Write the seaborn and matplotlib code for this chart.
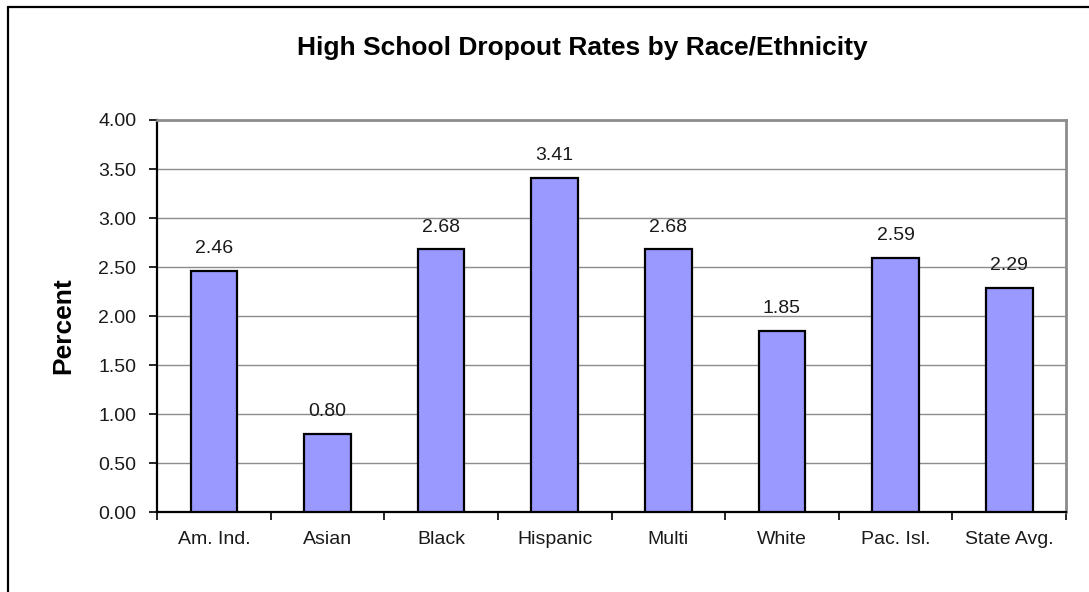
import numpy as np
import pandas as pd
import matplotlib
matplotlib.use("Agg")
import matplotlib.pyplot as plt
from matplotlib.lines import Line2D
from matplotlib.ticker import MultipleLocator, FixedLocator
import seaborn as sns

# --- Data ---
groups = ["Am. Ind.", "Asian", "Black", "Hispanic", "Multi", "White", "Pac. Isl.", "State Avg."]
rates = [2.46, 0.80, 2.68, 3.41, 2.68, 1.85, 2.59, 2.29]

df = pd.DataFrame({"Group": groups, "Rate": rates})

sns.set_theme(style="white")
plt.rcParams['font.family'] = ['Liberation Sans', 'DejaVu Sans']

fig = plt.figure(figsize=(10.89, 5.92), dpi=100)
ax = fig.add_axes([0.1442, 0.1351, 0.8347, 0.6622])

sns.barplot(data=df, x="Group", y="Rate", color="#9999FF", saturation=1,
            width=0.41, edgecolor="black", linewidth=1.6, ax=ax, zorder=3)

# value labels above bars
for i, v in enumerate(rates):
    ax.annotate(f"{v:.2f}", (i, v), xytext=(0, 16), textcoords="offset points",
                ha="center", va="center", fontsize=14, color="#1a1a1a")

ax.set_ylim(0, 4)
ax.set_xlim(-0.5, len(groups) - 0.5)
ax.yaxis.set_major_locator(MultipleLocator(0.5))
ax.yaxis.set_major_formatter(matplotlib.ticker.FormatStrFormatter("%.2f"))
ax.yaxis.grid(True, color="#8c8c8c", linewidth=1.0, zorder=0)
ax.set_axisbelow(True)

# ticks between categories
ax.xaxis.set_minor_locator(FixedLocator(np.arange(-0.5, len(groups), 1.0)))
ax.tick_params(axis="x", which="major", length=0, pad=14, labelsize=14, labelcolor="#1a1a1a")
ax.tick_params(axis="x", which="minor", bottom=True, length=6, width=1.2, color="black", direction="out")
ax.tick_params(axis="y", left=True, length=6, width=1.2, color="black", direction="out",
               labelsize=14, labelcolor="#1a1a1a", pad=9)

for side in ["left", "bottom"]:
    ax.spines[side].set_color("black")
    ax.spines[side].set_linewidth(1.6)
for side in ["top", "right"]:
    ax.spines[side].set_color("#8c8c8c")
    ax.spines[side].set_linewidth(2.0)
    ax.spines[side].set_visible(True)

ax.set_xlabel("")
ax.set_ylabel("")
fig.text(63 / 1089, 1 - 326 / 592, "Percent", rotation=90, ha="center", va="center",
         fontsize=19, fontweight="bold", color="black")

fig.text(582 / 1089, 1 - 48 / 592, "High School Dropout Rates by Race/Ethnicity",
         ha="center", va="center", fontsize=19, fontweight="bold", color="black")

# outer chart frame (left and top edges visible)
fig.add_artist(Line2D([7.5 / 1089, 7.5 / 1089], [0, 1 - 6.5 / 592], color="black", linewidth=1.6,
                      transform=fig.transFigure))
fig.add_artist(Line2D([7.5 / 1089, 1], [1 - 6.5 / 592, 1 - 6.5 / 592], color="black", linewidth=1.6,
                      transform=fig.transFigure))

fig.savefig("out.png", dpi=100)
